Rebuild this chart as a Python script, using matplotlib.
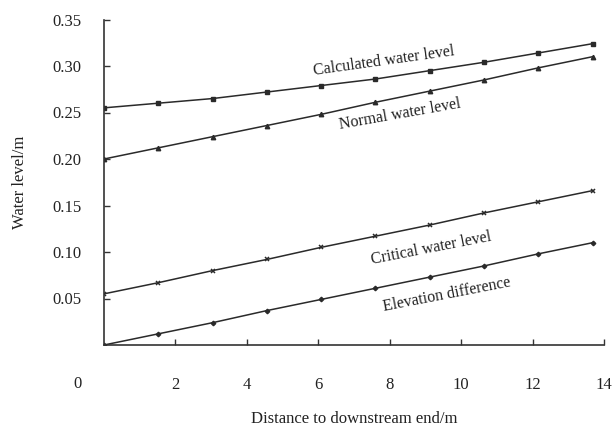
import matplotlib
matplotlib.use("Agg")
import matplotlib.pyplot as plt

distance = [0, 1.52, 3.04, 4.56, 6.08, 7.60, 9.12, 10.64, 12.16, 13.68]
calculated = [0.255, 0.260, 0.265, 0.272, 0.279, 0.286, 0.295, 0.304, 0.314, 0.324]
normal = [0.200, 0.212, 0.224, 0.236, 0.248, 0.261, 0.273, 0.285, 0.298, 0.310]
critical = [0.055, 0.067, 0.080, 0.092, 0.105, 0.117, 0.129, 0.142, 0.154, 0.166]
elevation = [0.000, 0.012, 0.024, 0.037, 0.049, 0.061, 0.073, 0.085, 0.098, 0.110]

x_ticks = [2, 4, 6, 8, 10, 12, 14]
y_ticks = [0.05, 0.10, 0.15, 0.20, 0.25, 0.30, 0.35]

plt.rcParams['font.family'] = ['Liberation Serif', 'DejaVu Serif']

fig = plt.figure(figsize=(6.13, 4.32), dpi=100)
ax = fig.add_axes([104/613, 1 - 345/432, 500/613, 325.5/432])

lc = '#2a2a2a'
ax.plot(distance, calculated, color=lc, lw=1.1, marker='s', ms=3.5)
ax.plot(distance, normal, color=lc, lw=1.1, marker='^', ms=3.2)
ax.plot(distance, critical, color=lc, lw=1.1, marker='x', ms=3.5, mew=1.1)
ax.plot(distance, elevation, color=lc, lw=1.1, marker='D', ms=2.3)

ax.set_xlim(0, 14)
ax.set_ylim(0, 0.35)
ax.set_xticks(x_ticks)
ax.set_xticklabels([str(v) for v in x_ticks])
ax.set_yticks(y_ticks)
ax.set_yticklabels([f"{v:.2f}" for v in y_ticks])
ax.tick_params(axis='both', direction='in', length=4, width=1, colors='#333333',
               labelsize=12, labelcolor='#222222')
ax.tick_params(axis='x', pad=23)
ax.tick_params(axis='y', pad=16)
for s in ['top', 'right']:
    ax.spines[s].set_visible(False)
for s in ['left', 'bottom']:
    ax.spines[s].set_color('#333333')
    ax.spines[s].set_linewidth(1.2)

# corner zero label
fig.text(78/613, 1 - 384/432, '0', ha='center', va='center', fontsize=12, color='#222222')

ax.set_xlabel('Distance to downstream end/m', fontsize=12, color='#222222', labelpad=13)
ax.set_ylabel('Water level/m', fontsize=12, color='#222222', labelpad=18)

kw = dict(ha='center', va='center', fontsize=11.5, color='#222222', rotation_mode='anchor')
ax.text(7.84, 0.3054, 'Calculated water level', rotation=8, **kw)
ax.text(8.29, 0.2484, 'Normal water level', rotation=10, **kw)
ax.text(9.16, 0.1043, 'Critical water level', rotation=11, **kw)
ax.text(9.60, 0.0538, 'Elevation difference', rotation=11, **kw)

fig.savefig('out.png', dpi=100)
